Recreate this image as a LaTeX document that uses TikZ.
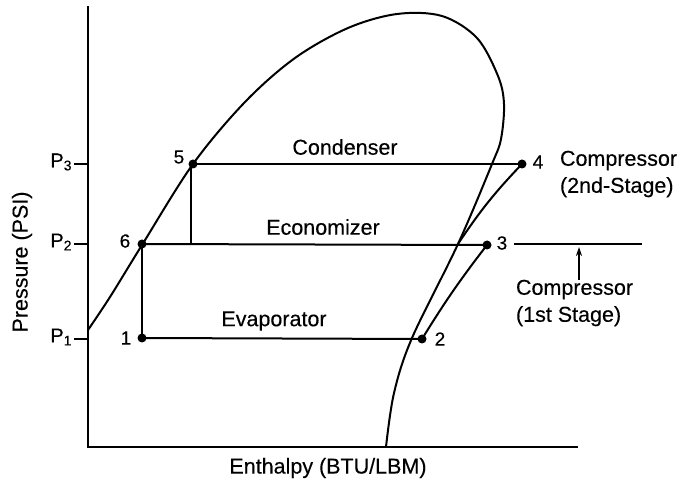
\documentclass[tikz,border=0pt]{standalone}
\usepackage{fontspec}
\setmainfont[FakeBold=0.3]{Liberation Sans}
\usetikzlibrary{arrows.meta}
\begin{document}
\begin{tikzpicture}[x=1pt,y=-1pt,line width=2pt,
  dot/.style={circle,fill=black,inner sep=0pt,minimum size=9pt},
  lbl/.style={font=\fontsize{21.5}{27}\selectfont,inner sep=1pt},
  num/.style={font=\fontsize{19}{21}\selectfont,inner sep=1pt},
  pl/.style={font=\fontsize{20}{22}\selectfont,inner sep=1pt,anchor=east}]
\useasboundingbox (0,0) rectangle (691,486);
% axes
\coordinate (ytop) at (88,6);
\coordinate (orig) at (88,447);
\coordinate (xend) at (578,447);
\draw (ytop) -- (orig) -- (xend);
% ticks and pressure labels
\coordinate (t3) at (88,164);
\coordinate (t2) at (88,244);
\coordinate (t1) at (88,339);
\draw ([xshift=-14pt]t3) -- (t3);
\draw ([xshift=-14pt]t2) -- (t2);
\draw ([xshift=-14pt]t1) -- (t1);
\node[pl] (lp3) at (74,162) {P\textsubscript{3}};
\node[pl] (lp2) at (74,242) {P\textsubscript{2}};
\node[pl] (lp1) at (74,337) {P\textsubscript{1}};
\node[lbl,rotate=90] (ylab) at (22,262) {Pressure (PSI)};
\node[lbl] (xlab) at (328,468) {Enthalpy (BTU/LBM)};
% dome
\draw plot[smooth,tension=0.55] coordinates {(88,330) (110,297) (142,245) (193,164) (245,102) (295,58) (348,28) (397,14) (442,16) (477,38) (498,76) (504,104) (501,139) (492,164) (458,244) (412,338) (394,393) (386,447)};
% state points
\node[dot] (p1) at (142,338) {};
\node[dot] (p2) at (422,339) {};
\node[dot] (p3) at (487,245) {};
\node[dot] (p4) at (522,164) {};
\node[dot] (p5) at (193,164) {};
\node[dot] (p6) at (142,244) {};
\coordinate (m5) at (191,244);
\coordinate (mix) at (458,244);
% cycle lines
\draw (p1.center) -- (p2.center);
\draw (p6.center) -- (p3.center);
\draw (p5.center) -- (p4.center);
\draw (p6.center) -- (p1.center);
\draw ([xshift=-2pt]p5.center) -- (m5);
\draw (p2.center) to[bend left=3] (p3.center);
\draw (mix) to[bend left=5] (p4.center);
% point labels
\node[num] (n1) at (126,338) {1};
\node[num] (n2) at (440,339) {2};
\node[num] (n3) at (502,243) {3};
\node[num] (n4) at (538,162) {4};
\node[num] (n5) at (179,157) {5};
\node[num] (n6) at (125,241) {6};
% process labels
\node[lbl] (cond) at (345,147) {Condenser};
\node[lbl] (econ) at (323,227) {Economizer};
\node[lbl] (evap) at (274,321) {Evaporator};
% compressor labels
\node[lbl,align=left,anchor=west] (c2) at (558,174) {Compressor\\(2nd-Stage)};
\coordinate (e1) at (514,244);
\coordinate (e2) at (642,244);
\draw[line width=1.5pt] (e1) -- (e2);
\node[lbl,align=left,anchor=west] (c1) at (514,303) {Compressor\\(1st Stage)};
\coordinate (ah) at (579,247);
\draw[line width=1.5pt,-{Stealth[length=9pt,width=6pt]}] ([yshift=-2pt]c1.north -| ah) -- (ah);
\end{tikzpicture}
\end{document}
